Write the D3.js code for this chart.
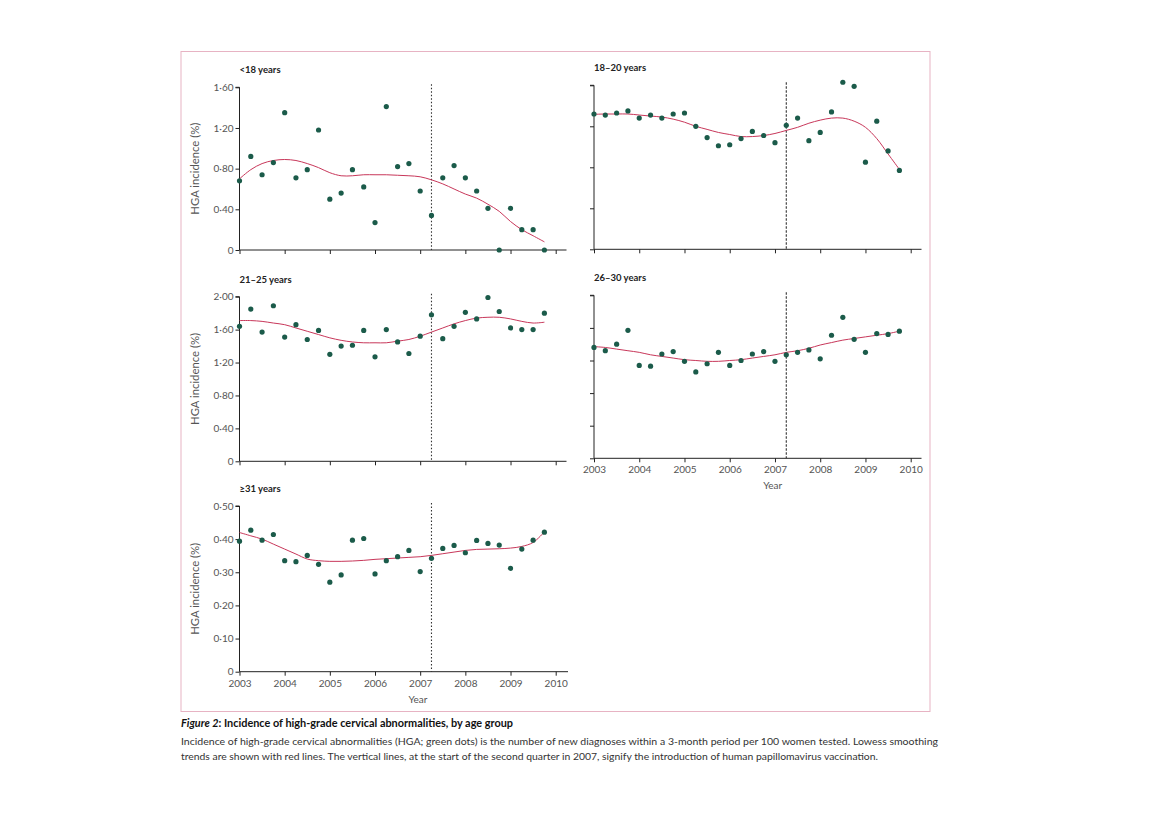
<!DOCTYPE html>
<html>
<head>
<meta charset="utf-8">
<script src="https://cdn.jsdelivr.net/npm/d3@7"></script>
<style>
  body { margin: 0; background: #fff; }
  svg { display: block; }
</style>
</head>
<body>
<div id="chart"></div>
<script>
// Quarter start dates, 2003 Q1 .. 2009 Q4
const quarters = [2003, 2003.25, 2003.5, 2003.75, 2004, 2004.25, 2004.5, 2004.75,
  2005, 2005.25, 2005.5, 2005.75, 2006, 2006.25, 2006.5, 2006.75,
  2007, 2007.25, 2007.5, 2007.75, 2008, 2008.25, 2008.5, 2008.75,
  2009, 2009.25, 2009.5, 2009.75];

const years = [2003, 2004, 2005, 2006, 2007, 2008, 2009, 2010];
const vaccineStart = 2007.25;

// HGA incidence (%) per quarter - green dots
const hgaUnder18 = [0.68, 0.92, 0.74, 0.86, 1.35, 0.71, 0.79, 1.18, 0.50, 0.56, 0.79, 0.62, 0.27, 1.41,
  0.82, 0.85, 0.58, 0.34, 0.71, 0.83, 0.71, 0.58, 0.41, 0, 0.41, 0.20, 0.20, 0];
const hga18to20 = [1.32, 1.31, 1.33, 1.35, 1.28, 1.31, 1.28, 1.32, 1.33, 1.20, 1.09, 1.01, 1.02, 1.08,
  1.15, 1.11, 1.04, 1.21, 1.28, 1.06, 1.14, 1.34, 1.63, 1.59, 0.85, 1.25, 0.96, 0.77];
const hga21to25 = [1.64, 1.85, 1.57, 1.89, 1.51, 1.66, 1.48, 1.59, 1.30, 1.40, 1.41, 1.59, 1.27, 1.60,
  1.45, 1.31, 1.52, 1.78, 1.49, 1.64, 1.81, 1.73, 1.99, 1.82, 1.62, 1.60, 1.60, 1.80];
const hga26to30 = [1.36, 1.32, 1.40, 1.57, 1.14, 1.13, 1.28, 1.31, 1.19, 1.06, 1.16, 1.30, 1.14, 1.20,
  1.28, 1.31, 1.19, 1.27, 1.30, 1.33, 1.22, 1.51, 1.73, 1.46, 1.30, 1.53, 1.52, 1.56];
const hga31plus = [0.394, 0.427, 0.397, 0.414, 0.335, 0.332, 0.351, 0.324, 0.270, 0.292, 0.397, 0.402,
  0.295, 0.335, 0.347, 0.366, 0.302, 0.342, 0.372, 0.381, 0.359, 0.396, 0.387, 0.382, 0.312, 0.370, 0.397, 0.421];

// Lowess smoothing trend per quarter - red lines
const trendUnder18 = [0.70, 0.79, 0.85, 0.88, 0.89, 0.88, 0.85, 0.81, 0.76, 0.73, 0.73, 0.74, 0.74, 0.74,
  0.735, 0.73, 0.72, 0.69, 0.65, 0.60, 0.55, 0.51, 0.45, 0.38, 0.28, 0.20, 0.14, 0.08];
const trend18to20 = [1.317, 1.32, 1.32, 1.32, 1.31, 1.30, 1.29, 1.27, 1.24, 1.20, 1.17, 1.14, 1.12, 1.10,
  1.10, 1.11, 1.13, 1.16, 1.19, 1.23, 1.26, 1.28, 1.28, 1.25, 1.19, 1.08, 0.93, 0.78];
const trend21to25 = [1.71, 1.71, 1.70, 1.68, 1.66, 1.62, 1.58, 1.54, 1.50, 1.47, 1.45, 1.44, 1.44, 1.44,
  1.46, 1.48, 1.52, 1.57, 1.62, 1.67, 1.71, 1.74, 1.75, 1.75, 1.73, 1.70, 1.68, 1.69];
const trend26to30 = [1.37, 1.36, 1.34, 1.32, 1.30, 1.27, 1.25, 1.23, 1.21, 1.20, 1.19, 1.19, 1.20, 1.21,
  1.23, 1.25, 1.27, 1.30, 1.32, 1.35, 1.39, 1.42, 1.45, 1.47, 1.49, 1.51, 1.53, 1.56];
const trend31plus = [0.42, 0.41, 0.40, 0.385, 0.37, 0.355, 0.34, 0.335, 0.333, 0.333, 0.334, 0.336, 0.339, 0.341,
  0.343, 0.345, 0.347, 0.351, 0.356, 0.361, 0.366, 0.369, 0.370, 0.371, 0.373, 0.378, 0.390, 0.422];

// y ticks
const ticks160 = [0, 0.4, 0.8, 1.2, 1.6];
const ticks200 = [0, 0.4, 0.8, 1.2, 1.6, 2.0];
const ticks050 = [0, 0.1, 0.2, 0.3, 0.4, 0.5];

const W = 1169, H = 826;
const svg = d3.select("#chart").append("svg")
  .attr("width", W)
  .attr("height", H)
  .style("font-family", "Lato, 'Open Sans', sans-serif");

// faint pink page frame
svg.append("rect")
  .attr("x", 181).attr("y", 51.5)
  .attr("width", 749).attr("height", 660)
  .attr("fill", "none")
  .attr("stroke", "#e7b3c3")
  .attr("stroke-width", 1);

const fmt = v => v === 0 ? "0" : d3.format(".2f")(v).replace(".", "\u00b7");

const panels = [
  { title: "<18 years", dots: hgaUnder18, trend: trendUnder18, ticks: ticks160, ymax: 1.6,
    x0: 239.5, x1: 555.7, xEnd: 566.5, top: 87.3, bottom: 250, labels: true, yearLabels: false, dash: "1.5,2" },
  { title: "18\u201320 years", dots: hga18to20, trend: trend18to20, ticks: ticks160, ymax: 1.6,
    x0: 594, x1: 910.7, xEnd: 921.5, top: 85.3, bottom: 249.3, labels: false, yearLabels: false, dash: "2.5,1.5" },
  { title: "21\u201325 years", dots: hga21to25, trend: trend21to25, ticks: ticks200, ymax: 2.0,
    x0: 239.5, x1: 555.7, xEnd: 566.5, top: 296.7, bottom: 461.3, labels: true, yearLabels: false, dash: "1.5,2" },
  { title: "26\u201330 years", dots: hga26to30, trend: trend26to30, ticks: ticks200, ymax: 2.0,
    x0: 594, x1: 910.7, xEnd: 921.5, top: 295.3, bottom: 458.3, labels: false, yearLabels: true, dash: "2.5,1.5" },
  { title: "\u226531 years", dots: hga31plus, trend: trend31plus, ticks: ticks050, ymax: 0.5,
    x0: 239.5, x1: 555.7, xEnd: 568, top: 506, bottom: 671.7, labels: true, yearLabels: true, dash: "1.5,2" }
];

panels.forEach(p => {
  const x = d3.scaleLinear().domain([2003, 2010]).range([p.x0, p.x1]);
  const y = d3.scaleLinear().domain([0, p.ymax]).range([p.bottom, p.top]);
  const g = svg.append("g");

  // title
  g.append("text")
    .attr("x", p.x0)
    .attr("y", p.top - 14)
    .style("font-size", "9.5px")
    .style("font-weight", "bold")
    .style("fill", "#222")
    .text(p.title);

  // y axis
  const yAxis = d3.axisLeft(y)
    .tickValues(p.ticks)
    .tickSize(4)
    .tickPadding(2)
    .tickFormat(p.labels ? fmt : () => "");
  const ya = g.append("g").attr("transform", `translate(${p.x0},0)`).call(yAxis);
  ya.select(".domain").attr("d", `M-4,${p.top}H0V${p.bottom}`);

  // x axis
  const xAxis = d3.axisBottom(x)
    .tickValues(years)
    .tickSize(4)
    .tickPadding(4)
    .tickFormat(p.yearLabels ? d3.format("d") : () => "");
  const xa = g.append("g").attr("transform", `translate(0,${p.bottom})`).call(xAxis);
  xa.select(".domain").attr("d", `M${p.x0},0H${p.xEnd}`);

  [ya, xa].forEach(a => {
    a.selectAll(".domain, .tick line").attr("stroke", "#222").attr("stroke-width", 1);
    a.selectAll("text")
      .style("font-family", "Lato, 'Open Sans', sans-serif")
      .style("font-size", "10px")
      .style("fill", "#555");
  });

  if (p.labels) {
    g.append("text")
      .attr("transform", `translate(${p.x0 - 41},${(p.top + p.bottom) / 2}) rotate(-90)`)
      .attr("text-anchor", "middle")
      .attr("textLength", 92)
      .attr("lengthAdjust", "spacingAndGlyphs")
      .style("font-size", "10.5px")
      .style("fill", "#555")
      .text("HGA incidence (%)");
  }
  if (p.yearLabels) {
    g.append("text")
      .attr("x", x(2006.95))
      .attr("y", p.bottom + 31)
      .attr("text-anchor", "middle")
      .style("font-size", "10px")
      .style("fill", "#555")
      .text("Year");
  }

  // vaccination line
  g.append("line")
    .attr("x1", x(vaccineStart)).attr("x2", x(vaccineStart))
    .attr("y1", p.top - 3).attr("y2", p.bottom)
    .attr("stroke", "#333")
    .attr("stroke-width", 1.1)
    .attr("stroke-dasharray", p.dash);

  // lowess trend
  g.append("path")
    .datum(p.trend)
    .attr("fill", "none")
    .attr("stroke", "#c8375a")
    .attr("stroke-width", 1)
    .attr("d", d3.line()
      .x((d, i) => x(quarters[i]))
      .y(d => y(d))
      .curve(d3.curveCatmullRom));

  // dots
  g.selectAll("circle")
    .data(p.dots)
    .join("circle")
    .attr("cx", (d, i) => x(quarters[i]))
    .attr("cy", d => y(d))
    .attr("r", 2.6)
    .attr("fill", "#1b5b4a");
});

// caption
const cap = svg.append("g").style("font-family", "Lato, 'Open Sans', sans-serif");
const t1 = cap.append("text").attr("x", 181).attr("y", 727)
  .attr("textLength", 332).attr("lengthAdjust", "spacingAndGlyphs")
  .style("font-size", "10.8px").style("fill", "#111");
t1.append("tspan").style("font-style", "italic").style("font-weight", "bold").text("Figure 2");
t1.append("tspan").style("font-weight", "bold").text(": Incidence of high-grade cervical abnormalities, by age group");

cap.append("text").attr("x", 181).attr("y", 745)
  .attr("textLength", 757).attr("lengthAdjust", "spacingAndGlyphs")
  .style("font-size", "9.8px").style("fill", "#333")
  .text("Incidence of high-grade cervical abnormalities (HGA; green dots) is the number of new diagnoses within a 3-month period per 100 women tested. Lowess smoothing");
cap.append("text").attr("x", 181).attr("y", 760)
  .attr("textLength", 697).attr("lengthAdjust", "spacingAndGlyphs")
  .style("font-size", "9.8px").style("fill", "#333")
  .text("trends are shown with red lines. The vertical lines, at the start of the second quarter in 2007, signify the introduction of human papillomavirus vaccination.");
</script>
</body>
</html>
